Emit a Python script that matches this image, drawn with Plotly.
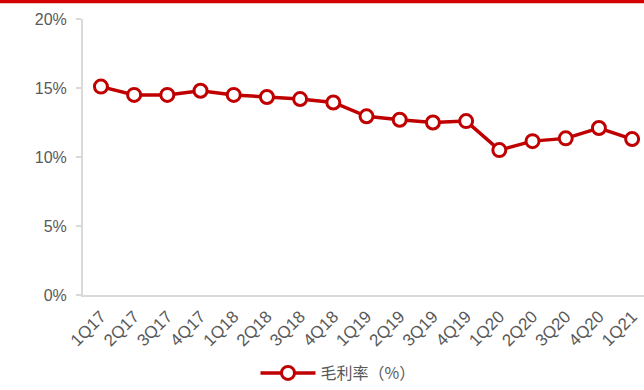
import plotly.graph_objects as go

quarters = ["1Q17", "2Q17", "3Q17", "4Q17", "1Q18", "2Q18", "3Q18", "4Q18",
            "1Q19", "2Q19", "3Q19", "4Q19", "1Q20", "2Q20", "3Q20", "4Q20", "1Q21"]
gross_margin = [15.1, 14.5, 14.5, 14.8, 14.5, 14.35, 14.2, 13.95,
                12.95, 12.7, 12.5, 12.6, 10.5, 11.15, 11.35, 12.1, 11.3]
y_ticks = [0, 5, 10, 15, 20]
y_tick_labels = ["0%", "5%", "10%", "15%", "20%"]

RED = "#C00000"
GREY_TEXT = "#595959"
AXIS_GREY = "#D9D9D9"

W, H = 644, 390
L, R, T, B = 83, 0, 19, 92
plot_w = W - L - R
plot_h = H - T - B

fig = go.Figure()
fig.add_trace(go.Scatter(
    x=list(range(len(quarters))),
    y=gross_margin,
    mode="lines+markers",
    name="毛利率（%）",
    line=dict(color=RED, width=3.5),
    marker=dict(symbol="circle", size=13, color="white",
                line=dict(color=RED, width=3)),
))

# thin red banner across the top edge
fig.add_shape(type="rect", xref="paper", yref="paper",
              x0=-L / plot_w, x1=1.0,
              y0=1 + (T - 3) / plot_h, y1=1 + T / plot_h + 0.01,
              fillcolor="#D40000", line=dict(width=0), layer="above")

fig.update_layout(
    width=W, height=H,
    margin=dict(l=L, r=R, t=T, b=B, pad=0),
    paper_bgcolor="white", plot_bgcolor="white",
    font=dict(family="Liberation Sans, Arial, sans-serif", size=16, color=GREY_TEXT),
    showlegend=True,
    legend=dict(orientation="h", x=(338 - L) / plot_w, xanchor="center",
                y=-(377 - (T + plot_h)) / plot_h, yanchor="middle",
                itemwidth=55,
                font=dict(family="Noto Sans CJK SC, sans-serif", size=16, color=GREY_TEXT),
                bgcolor="rgba(0,0,0,0)"),
    xaxis=dict(
        tickmode="array",
        tickvals=list(range(len(quarters))),
        ticktext=quarters,
        tickangle=-45,
        range=[-0.54, (W - R - L) / 33.2 - 0.54],
        showgrid=False, zeroline=False,
        showline=True, linecolor=AXIS_GREY, linewidth=2,
        ticks="", ticklabelstandoff=3,
        tickfont=dict(size=17, color=GREY_TEXT),
    ),
    yaxis=dict(
        range=[0, 20],
        tickmode="array",
        tickvals=y_ticks,
        ticktext=y_tick_labels,
        showgrid=False, zeroline=False,
        showline=True, linecolor=AXIS_GREY, linewidth=2,
        ticks="outside", ticklen=5, tickcolor=AXIS_GREY, tickwidth=1.5,
        ticklabelstandoff=6,
        tickfont=dict(size=16, color=GREY_TEXT),
    ),
)

fig.write_html("out.html")
